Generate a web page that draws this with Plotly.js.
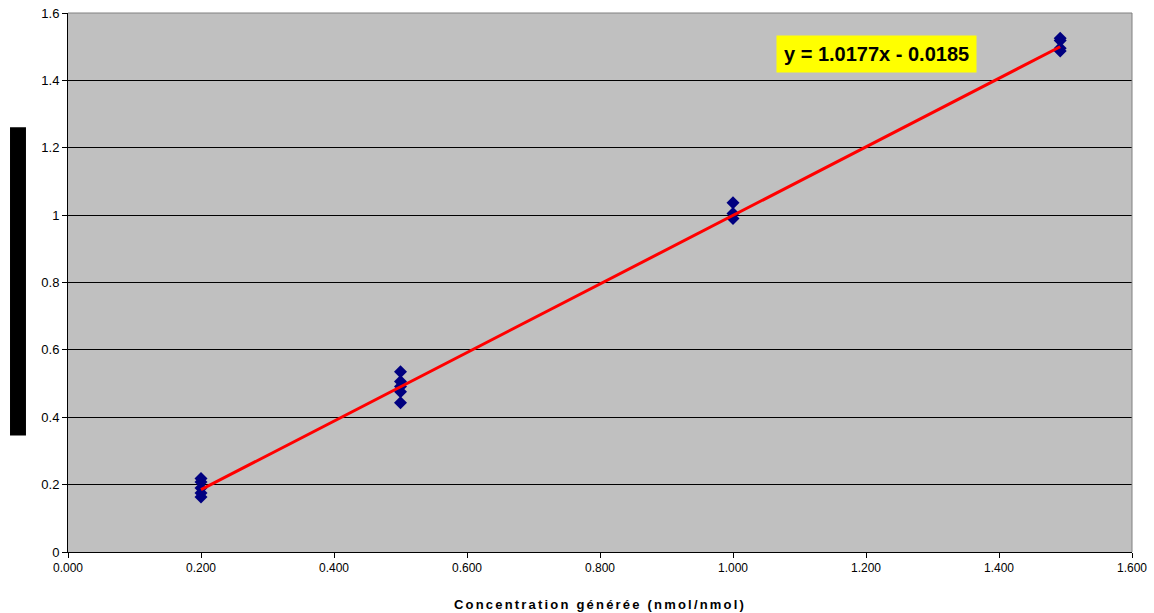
<!DOCTYPE html>
<html>
<head>
<meta charset="utf-8">
<script src="https://cdn.plot.ly/plotly-3.0.1.min.js"></script>
<style>html,body{margin:0;padding:0;background:#fff;}#chart{width:1154px;height:613px;}</style>
</head>
<body>
<div id="chart"></div>
<script>
const xValues = [0.2,0.2,0.2,0.2,0.2, 0.5,0.5,0.5,0.5,0.5, 1.0,1.0,1.0, 1.492,1.492,1.492,1.492];
const yValues = [0.218,0.208,0.19,0.175,0.163, 0.535,0.506,0.491,0.476,0.443, 1.037,1.005,0.99, 1.525,1.518,1.495,1.487];
const trendSlope = 1.0177;
const trendIntercept = -0.0185;
const trendLabel = "y = 1.0177x - 0.0185";
const xTickVals = [0,0.2,0.4,0.6,0.8,1.0,1.2,1.4,1.6];
const xTickText = ["0.000","0.200","0.400","0.600","0.800","1.000","1.200","1.400","1.600"];
const yTickVals = [0,0.2,0.4,0.6,0.8,1.0,1.2,1.4,1.6];
const yTickText = ["0","0.2","0.4","0.6","0.8","1","1.2","1.4","1.6"];
const xAxisTitle = "Concentration générée (nmol/nmol)";

const xMin = Math.min(...xValues), xMax = Math.max(...xValues);
const trendX = [xMin, xMax];
const trendY = trendX.map(x => trendSlope * x + trendIntercept);

const data = [
  {x: xValues, y: yValues, type: 'scatter', mode: 'markers',
   marker: {symbol: 'diamond', color: '#000080', size: 10}, showlegend: false, hoverinfo: 'x+y'},
  {x: trendX, y: trendY, type: 'scatter', mode: 'lines',
   line: {color: '#ff0000', width: 3}, showlegend: false}
];

const layout = {
  width: 1154, height: 613,
  margin: {l: 68, r: 22, t: 13, b: 61},
  paper_bgcolor: '#ffffff',
  plot_bgcolor: '#c0c0c0',
  font: {family: 'Arial, Liberation Sans, sans-serif', size: 12, color: '#000'},
  xaxis: {
    range: [0, 1.6], tickvals: xTickVals, ticktext: xTickText,
    showgrid: false, zeroline: false, showline: true, linecolor: '#000', linewidth: 1,
    ticks: 'outside', ticklen: 5, tickcolor: '#000',
    tickfont: {family: 'Arial, Liberation Sans, sans-serif', size: 12, color: '#000'},
    title: {text: xAxisTitle, standoff: 25,
      font: {family: 'Arial, Liberation Sans, sans-serif', size: 13, color: '#000', weight: 'bold'}}
  },
  yaxis: {
    range: [0, 1.6], tickvals: yTickVals, ticktext: yTickText,
    showgrid: true, gridcolor: '#000', gridwidth: 1, zeroline: false,
    showline: true, linecolor: '#000', linewidth: 1,
    ticks: 'outside', ticklen: 5, tickcolor: '#000',
    tickfont: {family: 'Arial, Liberation Sans, sans-serif', size: 13, color: '#000'}
  },
  shapes: [
    {type: 'line', xref: 'paper', yref: 'paper', x0: 0, x1: 1, y0: 1, y1: 1, line: {color: '#808080', width: 1}},
    {type: 'line', xref: 'paper', yref: 'paper', x0: 1, x1: 1, y0: 0, y1: 1, line: {color: '#808080', width: 1}},
    {type: 'rect', xref: 'paper', yref: 'paper', x0: -0.0545, x1: -0.0395, y0: 0.216, y1: 0.788,
     fillcolor: '#000', line: {width: 0}}
  ],
  annotations: [
    {xref: 'paper', yref: 'paper', x: 0.7595, y: 0.9243, xanchor: 'center', yanchor: 'middle',
     text: '<b>' + trendLabel + '</b>', showarrow: false,
     font: {family: 'Arial, Liberation Sans, sans-serif', size: 20, color: '#000'},
     bgcolor: '#ffff00', borderpad: 7}
  ]
};

Plotly.newPlot('chart', data, layout, {displayModeBar: false, staticPlot: true}).then(function () {
  const t = document.querySelector('.xtitle');
  if (t) t.setAttribute('letter-spacing', '2.2px');
});
</script>
</body>
</html>
